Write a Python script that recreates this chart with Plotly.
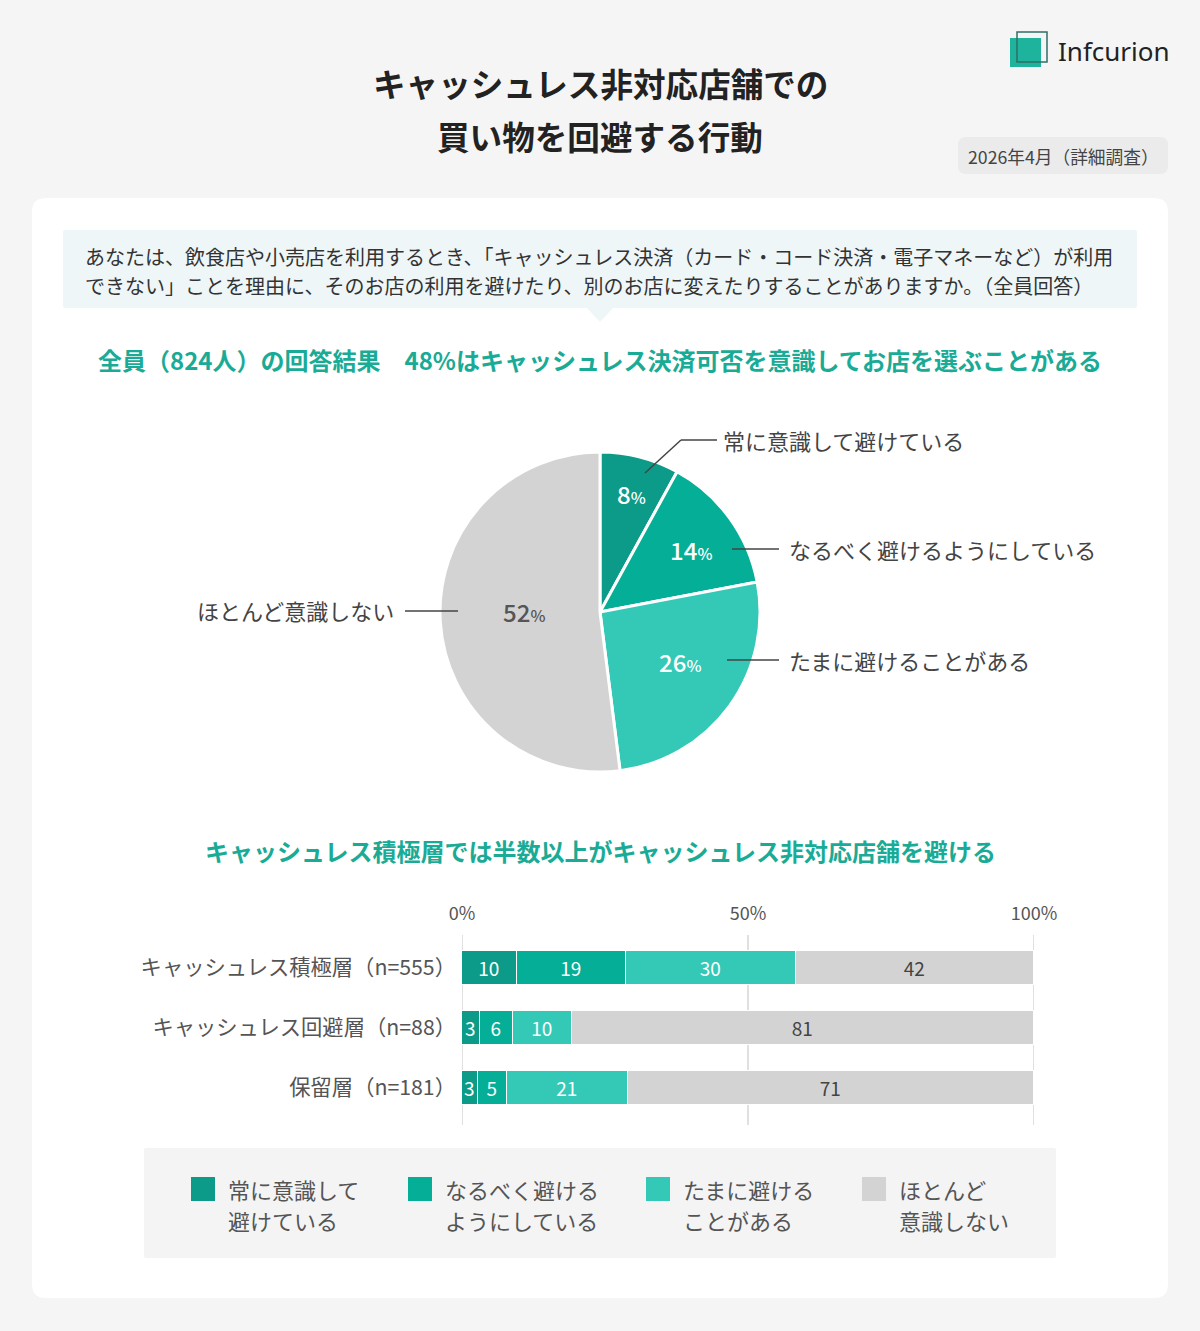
import plotly.graph_objects as go

W, H = 1200, 1331
def px(x): return x / W
def py(y): return 1 - y / H

# ---------------- data ----------------
pie_labels = ["常に意識して避けている", "なるべく避けるようにしている", "たまに避けることがある", "ほとんど意識しない"]
pie_values = [8, 14, 26, 52]

groups = ["キャッシュレス積極層（n=555）", "キャッシュレス回避層（n=88）", "保留層（n=181）"]
always = [9.6, 3.2, 2.8]
mostly = [19.1, 5.7, 5.1]
sometimes = [29.7, 10.3, 21.2]
rarely = [41.6, 80.8, 70.9]

legend_names = ["常に意識して<br>避けている", "なるべく避ける<br>ようにしている", "たまに避ける<br>ことがある", "ほとんど<br>意識しない"]
x_ticks = [0, 50, 100]
x_tick_text = ["0%", "50%", "100%"]

colors = ["#0c9b88", "#05ae96", "#34c9b7", "#d3d3d3"]
FONT = "Noto Sans CJK JP"
TEAL_TXT = "#1aab96"

fig = go.Figure()

# ---------------- pie ----------------
fig.add_trace(go.Pie(
    values=pie_values, labels=pie_labels, sort=False, direction="clockwise", rotation=0,
    marker=dict(colors=colors, line=dict(color="white", width=3)),
    textinfo="none", hoverinfo="label+percent", showlegend=False,
    domain=dict(x=[px(440), px(760)], y=[py(772), py(452)]),
))

# ---------------- bars ----------------
series = [always, mostly, sometimes, rarely]
for i, vals in enumerate(series):
    fig.add_trace(go.Bar(
        y=groups, x=vals, orientation="h", name=legend_names[i].replace("<br>", ""),
        marker=dict(color=colors[i], line=dict(color="white", width=1.5)),
        width=0.57,
        text=[str(round(v)) for v in vals], textposition="inside",
        insidetextanchor="middle", textangle=0,
        textfont=dict(size=19, color="white" if i < 3 else "#444", family=FONT),
        showlegend=False, hoverinfo="x+name",
    ))

shapes = []
annotations = []

def rrect(x0, y0, x1, y1, r, fill, line=None):
    p = (f"M {px(x0+r)},{py(y0)} L {px(x1-r)},{py(y0)} Q {px(x1)},{py(y0)} {px(x1)},{py(y0+r)} "
         f"L {px(x1)},{py(y1-r)} Q {px(x1)},{py(y1)} {px(x1-r)},{py(y1)} "
         f"L {px(x0+r)},{py(y1)} Q {px(x0)},{py(y1)} {px(x0)},{py(y1-r)} "
         f"L {px(x0)},{py(y0+r)} Q {px(x0)},{py(y0)} {px(x0+r)},{py(y0)} Z")
    shapes.append(dict(type="path", path=p, xref="paper", yref="paper", fillcolor=fill,
                       line=dict(width=0) if line is None else line, layer="below"))

def rect(x0, y0, x1, y1, fill, line_color=None, lw=0, layer="above"):
    shapes.append(dict(type="rect", xref="paper", yref="paper", x0=px(x0), x1=px(x1), y0=py(y1), y1=py(y0),
                       fillcolor=fill, line=dict(width=lw, color=line_color or fill), layer=layer))

def seg(x0, y0, x1, y1, color="#444", w=1.5):
    shapes.append(dict(type="line", xref="paper", yref="paper", x0=px(x0), y0=py(y0), x1=px(x1), y1=py(y1),
                       line=dict(color=color, width=w)))

def txt(x, y, s, size, color="#333", anchor="center", weight="normal", family=FONT):
    annotations.append(dict(x=px(x), y=py(y), xref="paper", yref="paper", text=s, showarrow=False,
                            xanchor=anchor, yanchor="middle", align=anchor if anchor != "center" else "center",
                            font=dict(size=size, color=color, family=family, weight=weight)))

# card & boxes
rrect(32, 198, 1168, 1298, 14, "white")
rrect(63, 230, 1137, 308, 2, "#eff6f7")
shapes.append(dict(type="path", xref="paper", yref="paper", layer="below",
                   path=f"M {px(586)},{py(307)} L {px(614)},{py(307)} L {px(600)},{py(322)} Z",
                   fillcolor="#eff6f7", line=dict(width=0)))
rrect(958, 137, 1168, 174, 8, "#ebebeb")
rrect(144, 1148, 1056, 1258, 2, "#f4f4f4")

# grid lines of the bar chart (drawn on the x axis scale)
for v in x_ticks:
    shapes.append(dict(type="line", xref="x", yref="paper", x0=v, x1=v, y0=py(1125), y1=py(935),
                       line=dict(color="#e0e0e0", width=2), layer="below"))

# logo
rect(1010, 38, 1041, 67, "#1db39c", layer="above")
rect(1017, 32, 1047, 62, "rgba(0,0,0,0)", "#2f6f66", 1.5, layer="above")
txt(1056, 51, "Infcurion", 26, "#222", anchor="left", family="Noto Sans")

# titles
txt(600, 83, "キャッシュレス非対応店舗での", 32.6, "#222", weight="bold")
txt(600, 135, "買い物を回避する行動", 32.6, "#222", weight="bold")
txt(1063, 156, "2026年4月（詳細調査）", 17.7, "#444")

txt(83, 256, "あなたは、飲食店や小売店を利用するとき、「キャッシュレス決済（カード・コード決済・電子マネーなど）が利用", 20, "#333", anchor="left")
txt(83, 285, "できない」ことを理由に、そのお店の利用を避けたり、別のお店に変えたりすることがありますか。（全員回答）", 20, "#333", anchor="left")

txt(600, 360, "全員（824人）の回答結果　48%はキャッシュレス決済可否を意識してお店を選ぶことがある", 24, TEAL_TXT, weight="bold")
txt(600, 850, "キャッシュレス積極層では半数以上がキャッシュレス非対応店舗を避ける", 24, TEAL_TXT, weight="bold")

# pie value labels
def pct(n, psize=16):
    return f"{n}<span style='font-size:{psize}px'>%</span>"
txt(631, 494, pct(pie_values[0]), 24, "white", weight=500)
txt(691, 549, pct(pie_values[1]), 24, "white", weight=500)
txt(680, 661, pct(pie_values[2]), 24, "white", weight=500)
txt(524, 611, pct(pie_values[3]), 24, "#555", weight=500)

# pie outside labels and leader lines
seg(645, 473, 681, 440); seg(681, 440, 717, 440)
txt(721, 440, pie_labels[0], 22, "#444", anchor="left")
seg(732, 549, 779, 549)
txt(787, 549, pie_labels[1], 22, "#444", anchor="left")
seg(727, 660, 779, 660)
txt(787, 660, pie_labels[2], 22, "#444", anchor="left")
seg(405, 611, 458, 611)
txt(396, 610, pie_labels[3], 22, "#444", anchor="right")

# legend
leg_x = [191, 408, 646, 862]
for i, lx in enumerate(leg_x):
    rect(lx, 1177, lx + 24, 1201, colors[i])
    a, b = legend_names[i].split("<br>")
    txt(lx + 35, 1189, a, 22, "#555", anchor="left")
    txt(lx + 35, 1220, b, 22, "#555", anchor="left")

fig.update_layout(
    width=W, height=H, margin=dict(l=0, r=0, t=0, b=0, autoexpand=False),
    paper_bgcolor="#f5f5f5", plot_bgcolor="rgba(0,0,0,0)",
    barmode="stack", bargap=0,
    uniformtext=dict(minsize=19, mode="show"),
    font=dict(family=FONT),
    shapes=shapes, annotations=annotations,
    xaxis=dict(domain=[px(462), px(1034)], range=[0, 100], side="top", automargin=False,
               tickvals=x_ticks, ticktext=x_tick_text, showgrid=False,
               zeroline=False, showline=False, ticks="", ticklabelstandoff=10,
               tickfont=dict(size=18, color="#555", family=FONT), fixedrange=True),
    yaxis=dict(domain=[py(1125), py(935)], type="category", categoryorder="array", categoryarray=groups,
               range=[2.617, -0.55], showgrid=False, zeroline=False, showline=False, ticks="", automargin=False,
               ticklabelstandoff=5, tickfont=dict(size=21.3, color="#555", family=FONT), fixedrange=True),
)

fig.write_html("out.html")
